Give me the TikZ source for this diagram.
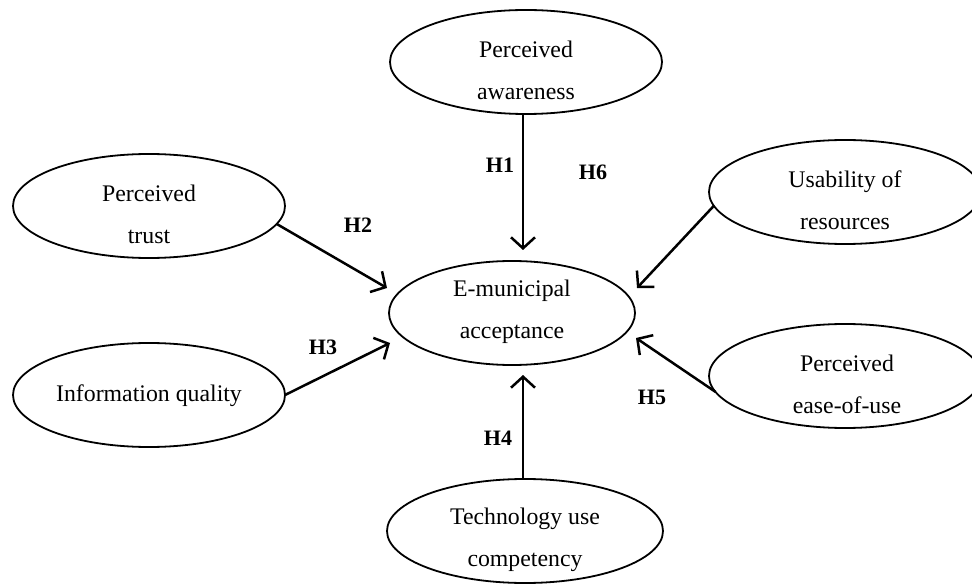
\documentclass[tikz,border=0pt]{standalone}
\usepackage{fontspec}
\setmainfont{Liberation Serif}
\usetikzlibrary{arrows.meta,shapes.geometric}
\begin{document}
\begin{tikzpicture}[x=1pt,y=-1pt,
  el/.style={draw, line width=1.8pt, ellipse, minimum width=272pt, minimum height=104pt, inner sep=0pt, outer sep=0pt},
  txt/.style={align=center, font=\fontsize{23.8}{42}\selectfont, inner sep=0pt},
  hl/.style={font=\fontsize{22}{26}\selectfont\bfseries, inner sep=0pt},
  arr/.style={line width=2.5pt, -{Straight Barb[length=11pt,width=24pt,line width=2.5pt]}}]
\useasboundingbox (0,0) rectangle (972,585);
\clip (0,0) rectangle (972,585);
% ellipses
\node[el] (pa) at (526,62) {};
\node[el] (pt) at (149,206) {};
\node[el] (iq) at (149,395) {};
\node[el] (ur) at (845,192) {};
\node[el] (pe) at (845,376) {};
\node[el, minimum width=246pt] (em) at (512,313) {};
\node[el, minimum width=276pt] (tc) at (525,531) {};
% texts
\node[txt] (paT) at (526,70) {Perceived\\awareness};
\node[txt] (ptT) at (149,214) {Perceived\\trust};
\node[txt] (iqT) at (149,396) {Information quality};
\node[txt] (urT) at (845,200) {Usability of\\resources};
\node[txt] (peT) at (847,384) {Perceived\\ease-of-use};
\node[txt] (emT) at (512,312) {E-municipal\\acceptance};
\node[txt] (tcT) at (525,540) {Technology use\\competency};
% arrow ends
\coordinate (t1) at (523,250);
\coordinate (t2) at (387,288);
\coordinate (t3) at (390,343);
\coordinate (t4) at (523,375);
\coordinate (t5) at (636,338);
\coordinate (t6) at (637,288);
% connectors
\draw[arr] (pa.south -| t1) -- (t1);
\draw[arr] (pt.-8) -- (t2);
\draw[arr] (iq.east) -- (t3);
\draw[arr] (tc.north -| t4) -- (t4);
\draw[arr] (pe.187) -- (t5);
\draw[arr] (ur.186) -- (t6);
% labels
\node[hl] (h1) at (500,165) {H1};
\node[hl] (h6) at (593,172) {H6};
\node[hl] (h2) at (358,225) {H2};
\node[hl] (h3) at (323,347) {H3};
\node[hl] (h4) at (498,438) {H4};
\node[hl] (h5) at (652,397) {H5};
\end{tikzpicture}
\end{document}
